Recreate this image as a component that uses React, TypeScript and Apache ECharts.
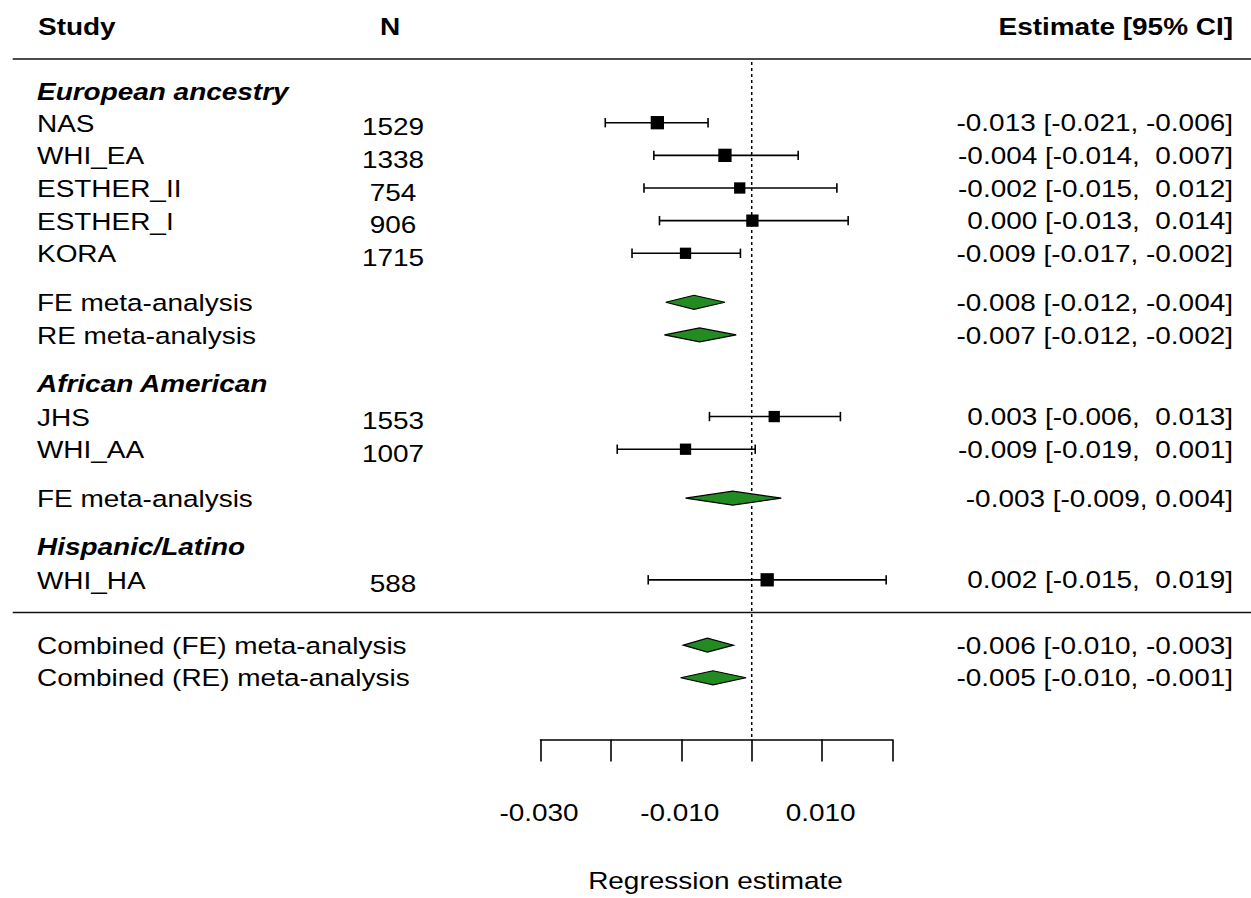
import { useEffect, useRef } from "react";
import * as echarts from "echarts";

// ---------- data ----------
const studyLabels = ["NAS", "WHI_EA", "ESTHER_II", "ESTHER_I", "KORA", "JHS", "WHI_AA", "WHI_HA"];
const studyRows = [1, 2, 3, 4, 5, 10, 11, 15];
const studyN = ["1529", "1338", "754", "906", "1715", "1553", "1007", "588"];
const studyEst = [-0.0134, -0.0038, -0.0017, 0.0001, -0.0094, 0.0032, -0.0094, 0.0022];
const studyLo = [-0.0208, -0.0139, -0.0153, -0.0131, -0.017, -0.006, -0.0191, -0.0147];
const studyHi = [-0.0062, 0.0066, 0.0121, 0.0137, -0.0016, 0.0126, 0.0005, 0.0191];
const studyText = [
  "-0.013 [-0.021, -0.006]",
  "-0.004 [-0.014,  0.007]",
  "-0.002 [-0.015,  0.012]",
  "0.000 [-0.013,  0.014]",
  "-0.009 [-0.017, -0.002]",
  "0.003 [-0.006,  0.013]",
  "-0.009 [-0.019,  0.001]",
  "0.002 [-0.015,  0.019]",
];
const studyWeight = [13.3, 13.3, 11.3, 12.3, 11.3, 11.3, 11.3, 13.3];

const metaLabels = [
  "FE meta-analysis",
  "RE meta-analysis",
  "FE meta-analysis",
  "Combined (FE) meta-analysis",
  "Combined (RE) meta-analysis",
];
const metaRows = [6.5, 7.5, 12.5, 17, 18];
const metaEst = [-0.0082, -0.0074, -0.0027, -0.0063, -0.0055];
const metaLo = [-0.0122, -0.0124, -0.0094, -0.0097, -0.0101];
const metaHi = [-0.0038, -0.0022, 0.0042, -0.0026, -0.0008];
const metaText = [
  "-0.008 [-0.012, -0.004]",
  "-0.007 [-0.012, -0.002]",
  "-0.003 [-0.009, 0.004]",
  "-0.006 [-0.010, -0.003]",
  "-0.005 [-0.010, -0.001]",
];

const groupLabels = ["European ancestry", "African American", "Hispanic/Latino"];
const groupRows = [0.05, 9, 14];

const headerLabels = ["Study", "N", "Estimate [95% CI]"];
const xTicks = [-0.03, -0.02, -0.01, 0, 0.01, 0.02];
const xTickLabels = ["-0.030", "", "-0.010", "", "0.010", ""];
const xAxisTitle = "Regression estimate";

// ---------- layout / style ----------
const FONT = "'Liberation Sans', Arial, Helvetica, sans-serif";
const FS = 23.3;
const SX = 1.2;
const COL_STUDY = 37;
const COL_N = 393;
const COL_EST = 1233;
const HEADER_ROW = -1.93;
const TOP_RULE_ROW = -0.95;
const BOTTOM_RULE_ROW = 16;
const DIAMOND_GREEN = "#228B22";

export default function App() {
  const ref = useRef<HTMLDivElement>(null);

  useEffect(() => {
    if (!ref.current) return;
    const chart = echarts.init(ref.current, undefined, { renderer: "svg" });

    const option: any = {
      animation: false,
      grid: { left: 540.5, top: 8.4, width: 352, height: 731.1 },
      xAxis: {
        type: "value",
        position: "bottom",
        min: -0.03,
        max: 0.02,
        interval: 0.01,
        axisLine: { show: true, onZero: false, lineStyle: { color: "#000", width: 1.6 } },
        axisTick: { show: true, length: 22, inside: false, lineStyle: { color: "#000", width: 1.6 } },
        axisLabel: { show: false },
        splitLine: { show: false },
      },
      yAxis: { type: "value", inverse: true, min: -2.5, max: 19.89, show: false },
      series: [
        {
          type: "line",
          data: [
            [0, -0.86],
            [0, 19.89],
          ],
          symbol: "none",
          silent: true,
          lineStyle: { color: "#000", width: 1.5, type: [3, 3] },
          z: 1,
        },
        {
          type: "custom",
          silent: true,
          data: studyRows.map((r, i) => [studyLo[i], studyHi[i], r]),
          encode: { x: [0, 1], y: 2 },
          renderItem: (_p: any, api: any) => {
            const a = api.coord([api.value(0), api.value(2)]);
            const b = api.coord([api.value(1), api.value(2)]);
            const h = 4.7;
            const st = { stroke: "#000", lineWidth: 1.6 };
            return {
              type: "group",
              children: [
                { type: "line", shape: { x1: a[0], y1: a[1], x2: b[0], y2: b[1] }, style: st },
                { type: "line", shape: { x1: a[0], y1: a[1] - h, x2: a[0], y2: a[1] + h }, style: st },
                { type: "line", shape: { x1: b[0], y1: b[1] - h, x2: b[0], y2: b[1] + h }, style: st },
              ],
            };
          },
          z: 2,
        },
        {
          type: "scatter",
          silent: true,
          symbol: "rect",
          data: studyRows.map((r, i) => [studyEst[i], r]),
          symbolSize: (_v: any, p: any) => studyWeight[p.dataIndex],
          itemStyle: { color: "#000", opacity: 1 },
          z: 3,
        },
        {
          type: "custom",
          silent: true,
          data: metaRows.map((r, i) => [metaLo[i], metaEst[i], metaHi[i], r]),
          encode: { x: [0, 1, 2], y: 3 },
          renderItem: (_p: any, api: any) => {
            const lo = api.coord([api.value(0), api.value(3)]);
            const es = api.coord([api.value(1), api.value(3)]);
            const hi = api.coord([api.value(2), api.value(3)]);
            const h = 7;
            return {
              type: "polygon",
              shape: {
                points: [
                  [lo[0], lo[1]],
                  [es[0], es[1] - h],
                  [hi[0], hi[1]],
                  [es[0], es[1] + h],
                ],
              },
              style: { fill: DIAMOND_GREEN, stroke: "#000", lineWidth: 1.2 },
            };
          },
          z: 3,
        },
      ],
    };
    chart.setOption(option);

    const py = (row: number) => chart.convertToPixel({ yAxisIndex: 0 }, row) as number;
    const px = (v: number) => chart.convertToPixel({ xAxisIndex: 0 }, v) as number;

    const txt = (
      text: string,
      x: number,
      y: number,
      align: string,
      extra: any = {}
    ) => ({
      type: "text",
      x,
      y,
      scaleX: SX,
      silent: true,
      style: {
        text,
        fontFamily: FONT,
        fontSize: FS,
        fill: "#000",
        align,
        verticalAlign: "middle",
        ...extra,
      },
      z: 10,
    });

    const graphics: any[] = [];
    // headers
    graphics.push(txt(headerLabels[0], COL_STUDY + 1, py(HEADER_ROW), "left", { fontWeight: "bold" }));
    graphics.push(txt(headerLabels[1], COL_N - 3, py(HEADER_ROW), "center", { fontWeight: "bold" }));
    graphics.push(txt(headerLabels[2], COL_EST, py(HEADER_ROW), "right", { fontWeight: "bold" }));
    // rules
    [TOP_RULE_ROW, BOTTOM_RULE_ROW].forEach((r) => {
      const y = py(r);
      graphics.push({
        type: "line",
        silent: true,
        shape: { x1: 12.7, y1: y, x2: 1251, y2: y },
        style: { stroke: "#111", lineWidth: 1.6 },
        z: 10,
      });
    });
    // group headers
    groupLabels.forEach((g, i) => {
      graphics.push(
        txt(g, COL_STUDY, py(groupRows[i]), "left", { fontWeight: "bold", fontStyle: "italic" })
      );
    });
    // studies
    studyLabels.forEach((s, i) => {
      const y = py(studyRows[i]);
      graphics.push(txt(s, COL_STUDY, y + 1, "left"));
      graphics.push(txt(studyN[i], COL_N, y + 4.5, "center"));
      graphics.push(txt(studyText[i], COL_EST, y + 0.5, "right"));
    });
    // meta rows
    metaLabels.forEach((s, i) => {
      const y = py(metaRows[i]);
      graphics.push(txt(s, COL_STUDY, y + 0.5, "left"));
      graphics.push(txt(metaText[i], COL_EST, y + 0.5, "right"));
    });
    // axis labels
    const axisY = py(19.89);
    xTicks.forEach((v, i) => {
      if (xTickLabels[i]) graphics.push(txt(xTickLabels[i], px(v) - 1.5, axisY + 73.5, "center"));
    });
    graphics.push(txt(xAxisTitle, (px(xTicks[0]) + px(xTicks[xTicks.length - 1])) / 2 - 1, axisY + 141, "center"));

    chart.setOption({ graphic: graphics });

    return () => chart.dispose();
  }, []);

  return (
    <div
      ref={ref}
      style={{ position: "fixed", left: 0, top: 0, width: 1251, height: 898, background: "#fff" }}
    />
  );
}
